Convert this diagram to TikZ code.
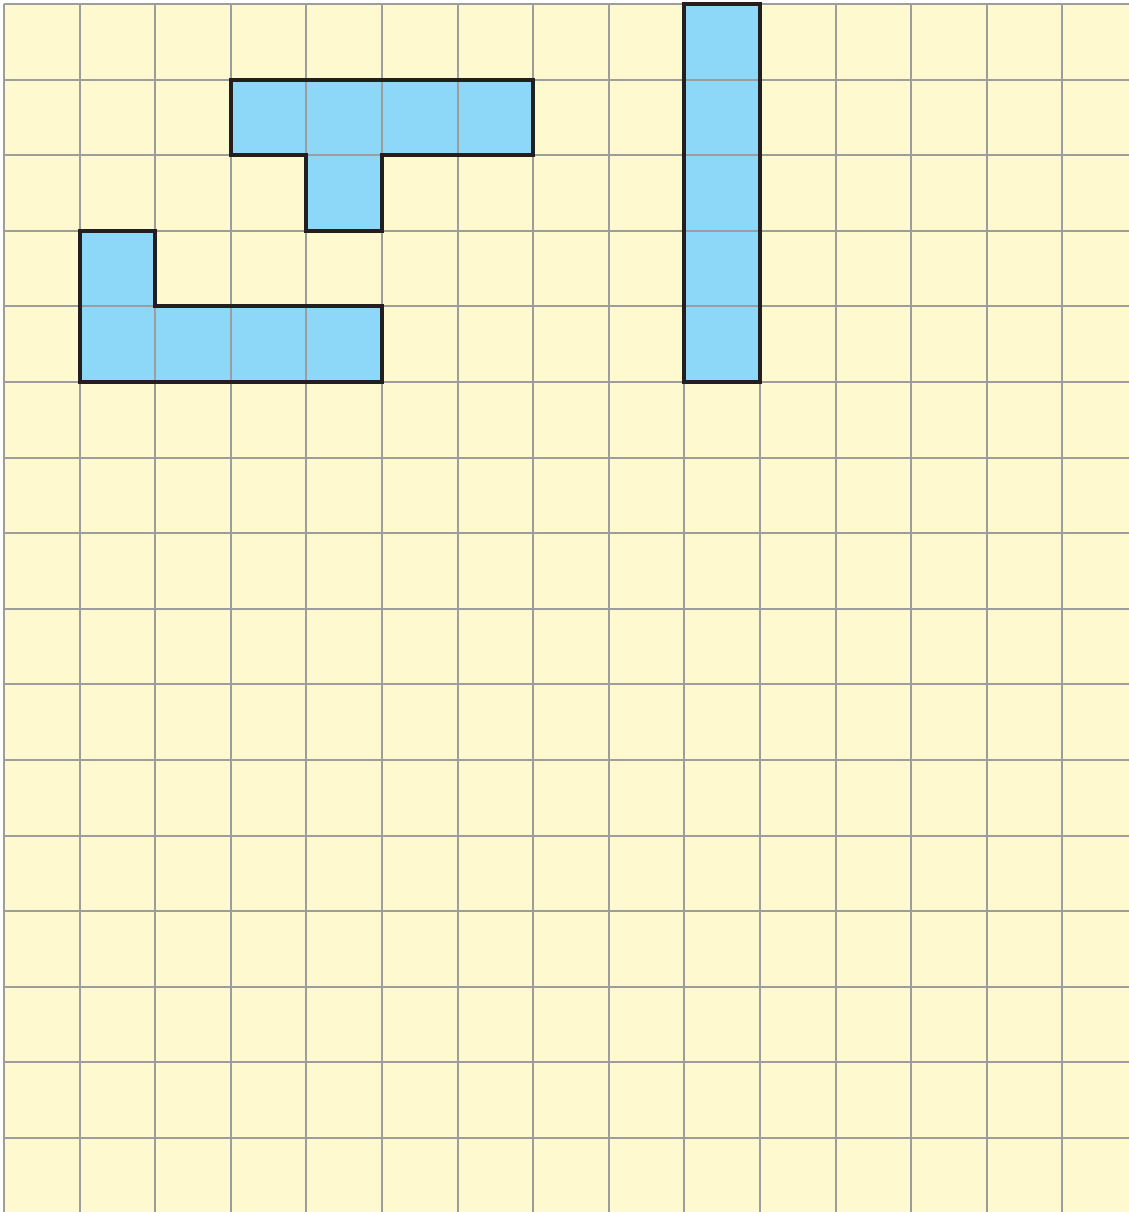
\documentclass[tikz,border=0pt]{standalone}
\usepackage{xcolor}
\definecolor{gridyellow}{HTML}{FFF9CF}
\definecolor{tileblue}{HTML}{8DD8F8}
\definecolor{gridgrey}{HTML}{9D9D9D}
\definecolor{edgeblack}{HTML}{231F20}

\begin{document}
\begin{tikzpicture}[
  paper/.style={fill=gridyellow},
  gridline/.style={draw=gridgrey, line width=0.75pt},
  tile/.style={fill=tileblue},
  outline/.style={draw=edgeblack, line width=1.5pt, line join=miter}
]
\useasboundingbox (-0.053,0.053) rectangle (14.88,-15.98);
\fill[paper] (-0.01,0.01) rectangle (14.88,-15.98);

% unit squares first, so the grid shows through them
\foreach \x/\y in {3/1,4/1,5/1,6/1,4/2,
                   1/3,1/4,2/4,3/4,4/4,
                   9/0,9/1,9/2,9/3,9/4}
  \fill[tile] (\x,-\y) rectangle ++(1,-1);

\draw[gridline] (0,-15.98) grid (14.88,0);

% outlines of the three pieces
\draw[outline] (3,-1) -- (7,-1) -- (7,-2) -- (5,-2) -- (5,-3)
  -- (4,-3) -- (4,-2) -- (3,-2) -- cycle;
\draw[outline] (1,-3) -- (2,-3) -- (2,-4) -- (5,-4) -- (5,-5)
  -- (1,-5) -- cycle;
\draw[outline] (9,0) rectangle (10,-5);
\end{tikzpicture}
\end{document}
